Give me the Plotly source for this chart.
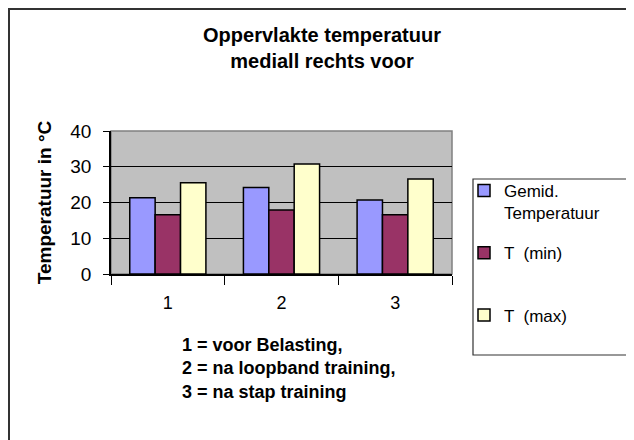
import plotly.graph_objects as go

categories = ["1", "2", "3"]
gemid = [21.3, 24.2, 20.7]
t_min = [16.6, 17.9, 16.6]
t_max = [25.5, 30.8, 26.6]
series_names = ["Gemid.<br>Temperatuur", "T  (min)<br> ", "T  (max)"]
colors = ["#9999FF", "#993366", "#FFFFCC"]

FONT = "Liberation Sans, Arial, sans-serif"

fig = go.Figure()
for i, (name, vals, col) in enumerate(zip(series_names, [gemid, t_min, t_max], colors)):
    fig.add_trace(go.Bar(
        x=categories, y=vals, name=name, legendgroup=f"g{i}",
        marker=dict(color=col, line=dict(color="black", width=1.5)),
    ))

OFF = 8  # page body margin
W, H = 634 - OFF, 440 - OFF
# plot area in page pixels
L, R, T, B = 111, 452, 131, 274
pw, ph = R - L, B - T

def px(x):
    return (x - L) / pw

def py(y):
    return (B - y) / ph

fig.update_layout(
    width=W, height=H,
    margin=dict(l=L - OFF, r=W - (R - OFF), t=T - OFF, b=H - (B - OFF), pad=0),
    paper_bgcolor="white",
    plot_bgcolor="#C0C0C0",
    barmode="group",
    bargap=0.33,
    bargroupgap=0,
    font=dict(family=FONT, size=16, color="black"),
    title=dict(
        text="<b>Oppervlakte temperatuur<br>mediall rechts voor</b>",
        x=(322 - OFF) / W, xanchor="center",
        y=1 - (42 - OFF) / H, yanchor="top",
        font=dict(family=FONT, size=20, color="black"),
    ),
    showlegend=True,
    legend=dict(
        x=px(464), xanchor="left",
        y=py(173), yanchor="top",
        bgcolor="rgba(0,0,0,0)",
        borderwidth=0,
        font=dict(family=FONT, size=17, color="black"),
        tracegroupgap=15,
        valign="top",
        itemwidth=30,
        maxheight=400,
    ),
    xaxis=dict(
        type="category",
        showgrid=False,
        showline=True, linecolor="black", linewidth=1.5,
        ticks="outside", tickson="boundaries", ticklen=9, tickcolor="black",
        tickfont=dict(family=FONT, size=18),
        ticklabelstandoff=12,
    ),
    yaxis=dict(
        range=[0, 40], dtick=10,
        showgrid=True, gridcolor="black", gridwidth=1,
        zeroline=False,
        showline=True, linecolor="black", linewidth=1.5,
        ticks="outside", ticklen=6, tickcolor="black",
        tickfont=dict(family=FONT, size=19),
        ticklabelstandoff=8,
        title=dict(text="<b>Temperatuur in °C</b>", font=dict(family=FONT, size=19), standoff=14),
    ),
    shapes=[
        dict(type="rect", xref="paper", yref="paper", x0=0, x1=1, y0=0, y1=1,
             line=dict(color="#808080", width=1.5), fillcolor="rgba(0,0,0,0)", layer="below"),
        dict(type="rect", xref="paper", yref="paper", x0=px(OFF + 1), x1=px(660), y0=py(OFF + 1), y1=py(470),
             line=dict(color="#333333", width=2), fillcolor="rgba(0,0,0,0)"),
        dict(type="rect", xref="paper", yref="paper", x0=px(473), x1=px(633), y0=py(179), y1=py(355),
             line=dict(color="#333333", width=1.2), fillcolor="rgba(0,0,0,0)"),
    ],
    annotations=[
        dict(
            text="<b>1 = voor Belasting,<br>2 = na loopband training,<br>3 = na stap training</b>",
            xref="paper", yref="paper", x=px(180), y=py(333),
            xanchor="left", yanchor="top", align="left", showarrow=False,
            font=dict(family=FONT, size=18, color="black"),
        ),
    ],
)

fig.write_html("out.html")
